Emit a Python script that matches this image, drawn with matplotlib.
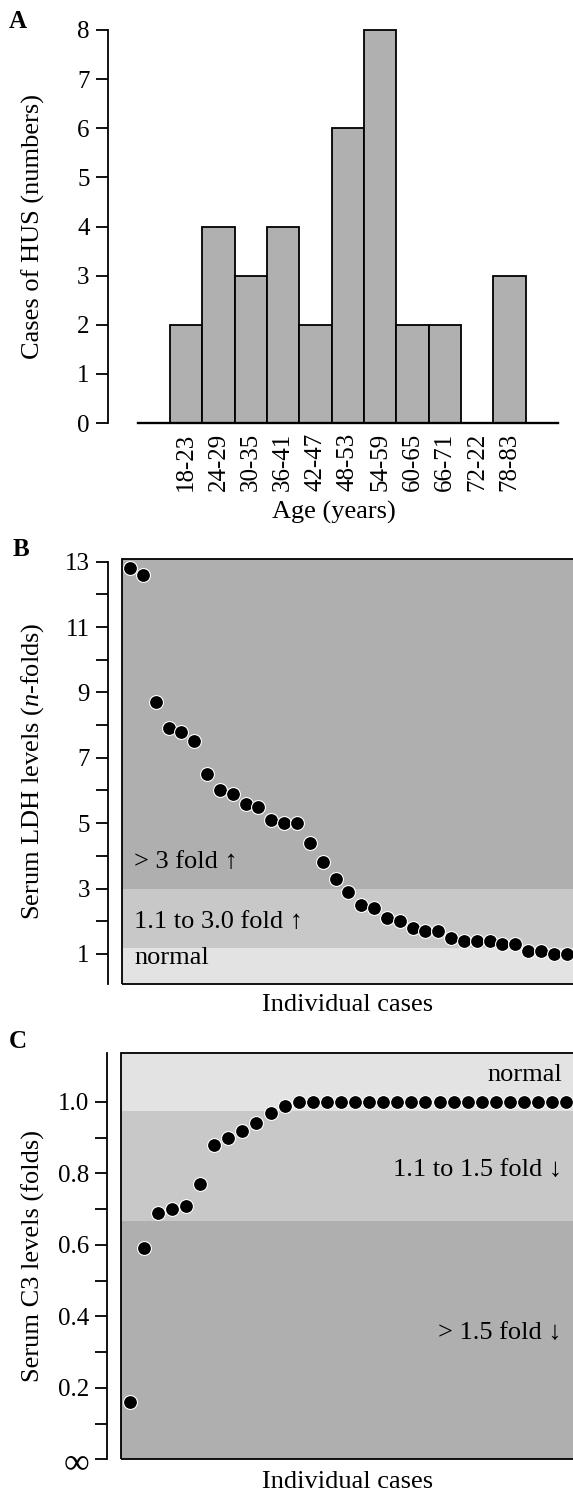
import matplotlib

matplotlib.use("Agg")

import matplotlib.pyplot as plt
from matplotlib.patches import Rectangle
from matplotlib.ticker import FixedLocator, NullFormatter

plt.rcParams["font.family"] = ["Liberation Serif", "DejaVu Serif"]
plt.rcParams["mathtext.fontset"] = "custom"
plt.rcParams["mathtext.rm"] = "Liberation Serif"
plt.rcParams["mathtext.it"] = "Liberation Serif:italic"

# panel A
age_groups = ["18-23", "24-29", "30-35", "36-41", "42-47", "48-53",
              "54-59", "60-65", "66-71", "72-22", "78-83"]
hus_cases = [2, 4, 3, 4, 2, 6, 8, 2, 2, 0, 3]

# panel B
ldh_folds = [12.8, 12.6, 8.7, 7.9, 7.8, 7.5, 6.5, 6.0, 5.9, 5.6, 5.5, 5.1,
             5.0, 5.0, 4.4, 3.8, 3.3, 2.9, 2.5, 2.4, 2.1, 2.0, 1.8, 1.7,
             1.7, 1.5, 1.4, 1.4, 1.4, 1.3, 1.3, 1.1, 1.1, 1.0, 1.0]
ldh_band_edges = [0, 1.18, 3.0, 14]
ldh_band_labels = ["normal", "1.1 to 3.0 fold \u2191", "> 3 fold \u2191"]
ldh_label_y = [0.88, 1.98, 3.8]

# panel C
c3_folds = [0.16, 0.59, 0.69, 0.70, 0.71, 0.77, 0.88, 0.90, 0.92, 0.94,
            0.97, 0.99, 1.0, 1.0, 1.0, 1.0, 1.0, 1.0, 1.0, 1.0, 1.0, 1.0,
            1.0, 1.0, 1.0, 1.0, 1.0, 1.0, 1.0, 1.0, 1.0, 1.0]
c3_band_edges = [0, 0.667, 0.976, 1.2]
c3_band_labels = ["> 1.5 fold \u2193", "1.1 to 1.5 fold \u2193", "normal"]
c3_label_y = [0.354, 0.81, 1.076]
c3_tick_values = [0, 0.2, 0.4, 0.6, 0.8, 1.0]
c3_tick_labels = ["\u221e", "0.2", "0.4", "0.6", "0.8", "1.0"]

DARK = "#afafaf"
MID = "#c8c8c8"
LIGHT = "#e3e3e3"
TICK_SIZE = 18
LABEL_SIZE = 19
LW = 1.3

W, H = 573, 1492
fig = plt.figure(figsize=(W / 100, H / 100), dpi=100)


def px_axes(left, top, right, bottom):
    return fig.add_axes([left / W, 1 - bottom / H, (right - left) / W, (bottom - top) / H])


def style_left(ax, offset):
    for s in ["top", "right", "bottom"]:
        ax.spines[s].set_visible(False)
    ax.spines["left"].set_linewidth(LW)
    ax.spines["left"].set_position(("outward", offset))
    ax.tick_params(axis="y", which="both", length=9, width=LW, pad=4,
                   labelsize=TICK_SIZE)
    ax.tick_params(axis="x", length=0)


# ---- A: histogram of cases
ax_a = px_axes(107.7, 30, 559.2, 423)
x = list(range(len(age_groups)))
ax_a.bar(x, hus_cases, width=1.0, color="#b0b0b0", edgecolor="black",
         linewidth=LW, clip_on=False)
ax_a.set_xlim(-2.43, 11.54)
ax_a.set_ylim(0, 8)
style_left(ax_a, 0)
ax_a.spines["bottom"].set_visible(True)
ax_a.spines["bottom"].set_linewidth(LW * 1.3)
ax_a.spines["bottom"].set_bounds(-1.5, 11.5)
ax_a.spines["left"].set_bounds(0, 8)
ax_a.set_yticks(range(0, 9))
ax_a.set_xticks(x)
ax_a.set_xticklabels(age_groups, rotation=90, fontsize=TICK_SIZE)
ax_a.tick_params(axis="x", pad=7)
ax_a.set_ylabel("Cases of HUS (numbers)", fontsize=LABEL_SIZE)
ax_a.set_xlabel("Age (years)", fontsize=LABEL_SIZE)
ax_a.yaxis.set_label_coords(-0.1654, 0.5)
ax_a.yaxis.label.set_va("center")
ax_a.xaxis.set_label_coords(0.5, -0.2265)
ax_a.xaxis.label.set_va("center")

# ---- B: LDH levels
ax_b = px_axes(121.7, 559, 575, 984)
for i, lab in enumerate(ldh_band_labels):
    color = [LIGHT, MID, DARK][i]
    ax_b.axhspan(ldh_band_edges[i], ldh_band_edges[i + 1], color=color, lw=0, zorder=0)
    ax_b.text(0.028, ldh_label_y[i], lab, transform=ax_b.get_yaxis_transform(),
              ha="left", va="center", fontsize=LABEL_SIZE, zorder=3)
ax_b.plot(range(len(ldh_folds)), ldh_folds, "o", color="black", ms=10,
          mec="white", mew=0.8, zorder=4, clip_on=False)
ax_b.set_xlim(-0.65, len(ldh_folds) - 0.35)
ax_b.set_ylim(0.08, 13.08)
style_left(ax_b, 10)
ax_b.spines["left"].set_bounds(0.08, 13)
ax_b.yaxis.set_major_locator(FixedLocator([1, 3, 5, 7, 9, 11, 13]))
ax_b.yaxis.set_minor_locator(FixedLocator([2, 4, 6, 8, 10, 12]))
ax_b.yaxis.set_minor_formatter(NullFormatter())
ax_b.set_xticks([])
ax_b.add_patch(Rectangle((0, 0), 1, 1, transform=ax_b.transAxes, fill=False,
                         lw=LW, clip_on=False, zorder=5))
ax_b.set_ylabel("Serum LDH levels ($\\it{n}$-folds)", fontsize=LABEL_SIZE)
ax_b.set_xlabel("Individual cases", fontsize=LABEL_SIZE)
ax_b.yaxis.set_label_coords(-0.1957, 0.5)
ax_b.yaxis.label.set_va("center")
ax_b.xaxis.set_label_coords(0.499, -0.0494)
ax_b.xaxis.label.set_va("center")

# ---- C: C3 levels
ax_c = px_axes(121, 1053, 575, 1459.3)
for i, lab in enumerate(c3_band_labels):
    color = [DARK, MID, LIGHT][i]
    ax_c.axhspan(c3_band_edges[i], c3_band_edges[i + 1], color=color, lw=0, zorder=0)
    ax_c.text(0.971, c3_label_y[i], lab, transform=ax_c.get_yaxis_transform(),
              ha="right", va="center", fontsize=LABEL_SIZE, zorder=3)
ax_c.plot(range(len(c3_folds)), c3_folds, "o", color="black", ms=10,
          mec="white", mew=0.8, zorder=4, clip_on=False)
ax_c.set_xlim(-0.61, len(c3_folds) - 0.39)
ax_c.set_ylim(0, 1.137)
style_left(ax_c, 10)
ax_c.yaxis.set_major_locator(FixedLocator(c3_tick_values))
ax_c.set_yticklabels(c3_tick_labels)
ax_c.get_yticklabels()[0].set_fontsize(26)
ax_c.yaxis.set_minor_locator(FixedLocator([0.1, 0.3, 0.5, 0.7, 0.9]))
ax_c.yaxis.set_minor_formatter(NullFormatter())
ax_c.set_xticks([])
ax_c.add_patch(Rectangle((0, 0), 1, 1, transform=ax_c.transAxes, fill=False,
                         lw=LW, clip_on=False, zorder=5))
ax_c.set_ylabel("Serum C3 levels (folds)", fontsize=LABEL_SIZE)
ax_c.set_xlabel("Individual cases", fontsize=LABEL_SIZE)
ax_c.yaxis.set_label_coords(-0.1938, 0.5)
ax_c.yaxis.label.set_va("center")
ax_c.xaxis.set_label_coords(0.499, -0.0559)
ax_c.xaxis.label.set_va("center")

# panel letters
for letter, (px, py) in zip("ABC", [(18, 22), (21, 550), (18, 1042)]):
    fig.text(px / W, 1 - py / H, letter, fontsize=18, fontweight="bold",
             ha="center", va="center")

fig.savefig("out.png", dpi=100)
plt.close(fig)
